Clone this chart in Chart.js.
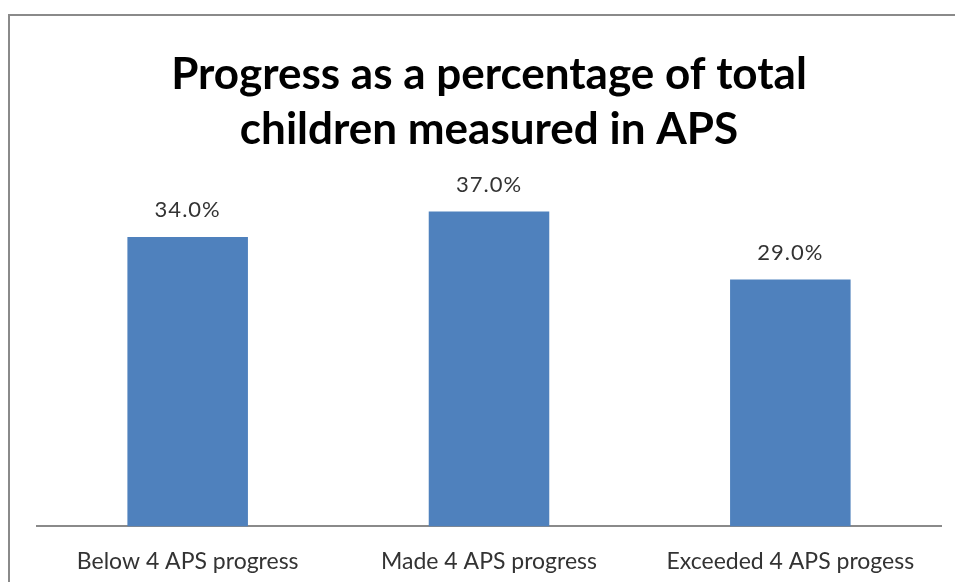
<!DOCTYPE html>
<html>
<head>
<meta charset="utf-8">
<script src="https://cdn.jsdelivr.net/npm/chart.js@4"></script>
<style>
  body { margin: 0; background: #ffffff; }
  #wrap { position: relative; width: 955px; height: 582px; }
  #frame { position: absolute; left: 8px; top: 14px; width: 960px; height: 600px;
           border-left: 2px solid #8a8a8a; border-top: 2px solid #8a8a8a; }
  canvas { position: absolute; left: 0; top: 0; }
</style>
</head>
<body>
<div id="wrap">
  <div id="frame"></div>
  <canvas id="aps-chart" width="955" height="582"></canvas>
</div>
<script>
// Chart data
const categories = ['Below 4 APS progress', 'Made 4 APS progress', 'Exceeded 4 APS progess'];
const percentValues = [34.0, 37.0, 29.0];
const titleLines = ['Progress as a percentage of total', 'children measured in APS'];

// Draws the value labels above each bar
const valueLabels = {
  id: 'valueLabels',
  afterDatasetsDraw: function(chart) {
    const ctx = chart.ctx;
    const meta = chart.getDatasetMeta(0);
    ctx.save();
    ctx.font = '22px Lato';
    ctx.letterSpacing = '1px';
    ctx.fillStyle = '#333333';
    ctx.textAlign = 'center';
    ctx.textBaseline = 'middle';
    meta.data.forEach(function(bar, i) {
      ctx.fillText(percentValues[i].toFixed(1) + '%', bar.x, bar.y - 27);
    });
    ctx.restore();
  }
};

function createBarChart() {
  const ctx = document.getElementById('aps-chart').getContext('2d');
  new Chart(ctx, {
    type: 'bar',
    data: {
      labels: categories,
      datasets: [{
        data: percentValues,
        backgroundColor: '#4F81BD',
        borderWidth: 0,
        barPercentage: 0.4,
        categoryPercentage: 1.0
      }]
    },
    options: {
      responsive: false,
      animation: false,
      layout: {
        padding: { top: 47, left: 37, right: 14, bottom: -14 }
      },
      plugins: {
        legend: { display: false },
        tooltip: { enabled: false },
        title: {
          display: true,
          text: titleLines,
          color: '#000000',
          font: { family: 'Lato', size: 44, weight: 'bold', lineHeight: 1.25 },
          padding: { top: 0, bottom: 29 }
        }
      },
      scales: {
        x: {
          grid: { display: false, drawTicks: false },
          border: { display: true, color: '#8a8a8a', width: 2 },
          ticks: {
            color: '#333333',
            padding: 21,
            font: { family: 'Lato', size: 23 }
          }
        },
        y: {
          display: false,
          min: 0,
          max: 40
        }
      }
    },
    plugins: [valueLabels]
  });
}

document.addEventListener('DOMContentLoaded', () => {
  createBarChart();
});
</script>
</body>
</html>
